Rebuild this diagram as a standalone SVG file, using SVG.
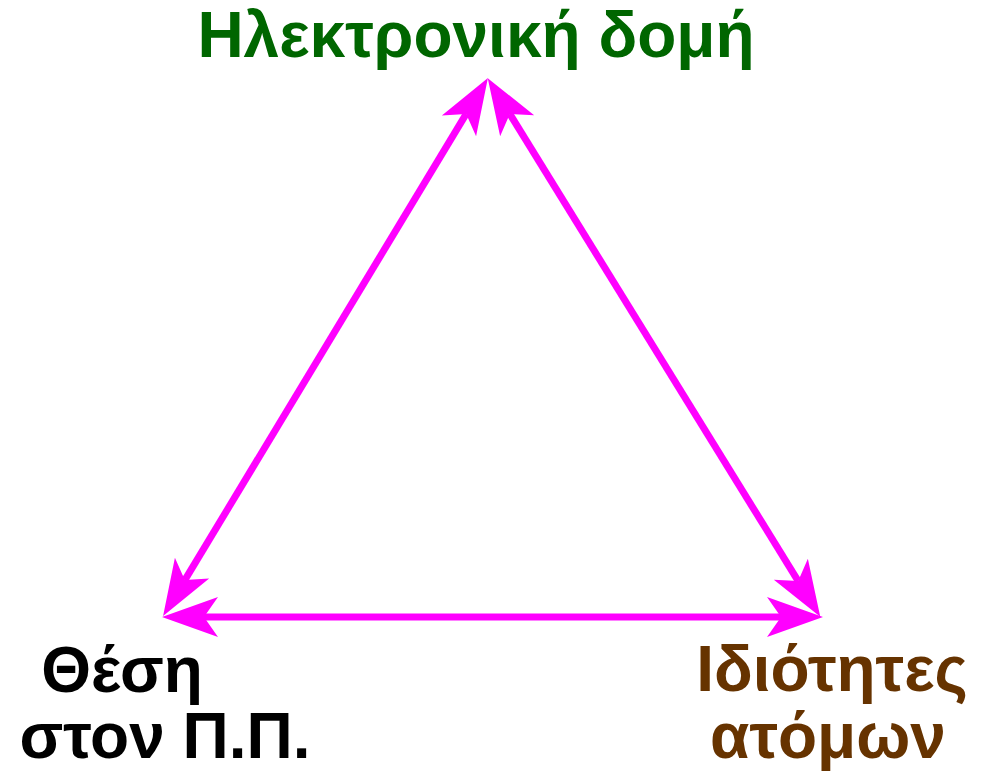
<svg xmlns="http://www.w3.org/2000/svg" width="986" height="781" viewBox="0 0 986 781">
<style>
.t{font-family:"Liberation Sans",Arial,sans-serif;font-weight:bold;font-size:64px;text-anchor:middle}
.c{stroke:#FF00FF;stroke-width:7;fill:none}
</style>
<defs>
<marker id="ah" markerUnits="userSpaceOnUse" viewBox="-20 -24 66 48" refX="0" refY="0" markerWidth="66" markerHeight="48" orient="auto-start-reverse">
<path d="M42,0 L-14,-20 L0,0 L-14,20 Z" fill="#FF00FF"/>
</marker>
</defs>
<rect width="986" height="781" fill="#fff"/>
<g id="connectors">
<line class="c" x1="466.2" y1="113.9" x2="184.8" y2="580.1" marker-start="url(#ah)" marker-end="url(#ah)"/>
<line class="c" x1="509.8" y1="113.9" x2="798.2" y2="581.1" marker-start="url(#ah)" marker-end="url(#ah)"/>
<line class="c" x1="204" y1="617" x2="781" y2="617" marker-start="url(#ah)" marker-end="url(#ah)"/>
</g>
<g id="node-top"><text class="t" x="476" y="57" fill="#006600">Ηλεκτρονική δομή</text></g>
<g id="node-left"><text class="t" x="122" y="692" fill="#000">Θέση</text><text class="t" x="165" y="758" fill="#000">στον Π.Π.</text></g>
<g id="node-right"><text class="t" x="832" y="691" fill="#663300">Ιδιότητες</text><text class="t" x="828" y="758" fill="#663300">ατόμων</text></g>
</svg>
